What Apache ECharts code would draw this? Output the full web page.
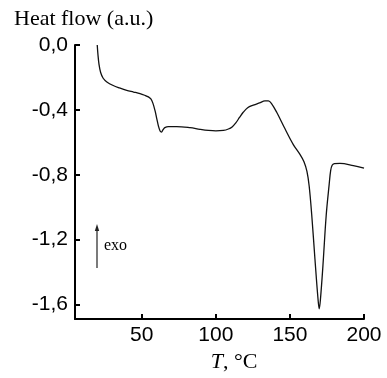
<!DOCTYPE html>
<html>
<head>
<meta charset="utf-8">
<script src="https://cdn.jsdelivr.net/npm/echarts@6/dist/echarts.min.js"></script>
<style>
html,body{margin:0;padding:0;background:#fff;}
#chart{width:387px;height:378px;}
</style>
</head>
<body>
<div id="chart"></div>
<script>
// Temperature (°C)
const temps = [20.0, 20.5, 21.2, 22.3, 24.0, 26.5, 30.8, 35.0, 39.9, 44.5, 48.9, 52.0, 54.5, 56.2, 57.6, 59.0, 60.2, 61.3, 62.4, 63.4, 64.4, 65.6, 68.0, 73.6, 82.6, 89.3, 95.0, 100.0, 105.1, 108.5, 111.0, 113.5, 116.0, 118.5, 121.5, 125.3, 129.5, 133.2, 135.5, 137.5, 141.1, 146.7, 152.3, 156.8, 159.5, 161.5, 163.0, 164.7, 166.9, 169.0, 169.8, 170.6, 172.3, 174.5, 176.5, 177.5, 178.5, 180.0, 183.8, 192.8, 200.0];
// Heat flow (a.u.)
const heatFlow = [0.0, -0.06, -0.12, -0.17, -0.205, -0.228, -0.25, -0.265, -0.28, -0.29, -0.30, -0.31, -0.32, -0.333, -0.36, -0.405, -0.455, -0.50, -0.53, -0.537, -0.522, -0.51, -0.503, -0.503, -0.51, -0.52, -0.527, -0.53, -0.527, -0.518, -0.505, -0.48, -0.447, -0.415, -0.387, -0.371, -0.357, -0.345, -0.345, -0.36, -0.415, -0.517, -0.614, -0.675, -0.72, -0.78, -0.87, -1.044, -1.32, -1.57, -1.627, -1.57, -1.36, -1.05, -0.86, -0.775, -0.742, -0.732, -0.73, -0.744, -0.76];
const xTicks = [50, 100, 150, 200];
const yTicks = [0, -0.4, -0.8, -1.2, -1.6];

const chart = echarts.init(document.getElementById('chart'), null, {renderer: 'canvas'});
const pts = temps.map((t, i) => [t, heatFlow[i]]);
chart.setOption({
  animation: false,
  backgroundColor: '#fff',
  title: {
    text: 'Heat flow (a.u.)',
    left: 14, top: 8, padding: 0,
    textStyle: {fontFamily: 'Liberation Serif', fontSize: 22, fontWeight: 'normal', color: '#000'}
  },
  grid: {left: 75, right: 23, top: 45, bottom: 55},
  xAxis: {
    type: 'value', min: 5, max: 200,
    name: '{i|T}, °C',
    nameLocation: 'middle', nameGap: 32,
    nameTextStyle: {
      fontFamily: 'Liberation Serif', fontSize: 22, color: '#000',
      padding: [0, 0, 0, 29],
      rich: {i: {fontFamily: 'Liberation Serif', fontSize: 22, fontStyle: 'italic', color: '#000'}}
    },
    axisLine: {show: true, onZero: false, lineStyle: {color: '#000', width: 2}},
    axisTick: {show: true, inside: true, length: 5, lineStyle: {color: '#000', width: 2}, customValues: xTicks},
    axisLabel: {fontFamily: 'Liberation Sans', fontSize: 21, color: '#000', margin: 6, customValues: xTicks},
    splitLine: {show: false}
  },
  yAxis: {
    type: 'value', min: -1.69, max: 0,
    axisLine: {show: true, onZero: false, lineStyle: {color: '#000', width: 2}},
    axisTick: {show: true, inside: true, length: 5, lineStyle: {color: '#000', width: 2}, customValues: yTicks},
    axisLabel: {
      fontFamily: 'Liberation Sans', fontSize: 21, color: '#000', margin: 7,
      customValues: yTicks,
      formatter: v => v.toFixed(1).replace('.', ',')
    },
    splitLine: {show: false}
  },
  series: [{
    type: 'line',
    data: pts,
    smooth: 0.35,
    showSymbol: false,
    lineStyle: {color: '#111', width: 1.3}
  }],
  graphic: [
    {type: 'line', shape: {x1: 97, y1: 268, x2: 97, y2: 229}, style: {stroke: '#222', lineWidth: 1.2}},
    {type: 'polygon', shape: {points: [[97, 224], [94.8, 231], [99.2, 231]]}, style: {fill: '#222'}},
    {type: 'text', x: 104, y: 246, style: {text: 'exo', fontFamily: 'Liberation Serif', fontSize: 16, fill: '#000', verticalAlign: 'middle'}}
  ]
});
</script>
</body>
</html>
